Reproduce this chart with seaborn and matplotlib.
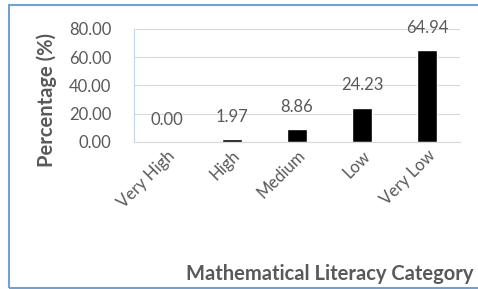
import matplotlib
matplotlib.use("Agg")
import matplotlib.pyplot as plt
import seaborn as sns
import pandas as pd
from matplotlib.patches import Rectangle

# data
categories = ["Very High", "High", "Medium", "Low", "Very Low"]
percentages = [0.00, 1.97, 8.86, 24.23, 64.94]
y_ticks = [0, 20, 40, 60, 80]

df = pd.DataFrame({"category": categories, "pct": percentages})

sns.set_style("white")
plt.rcParams["font.family"] = ["Lato", "DejaVu Sans"]
txt_gray = "#595959"

fig = plt.figure(figsize=(4.78, 2.89), dpi=100)
ax = fig.add_axes([0.280, 0.509, 0.682, 0.391])

sns.barplot(data=df, x="category", y="pct", color="black", width=0.31,
            saturation=1, ax=ax)

ax.set_ylim(0, 80)
ax.set_yticks(y_ticks)
ax.set_yticklabels([f"{v:.2f}" for v in y_ticks], color=txt_gray, fontsize=12)
ax.yaxis.grid(True, color="#d9d9d9", linewidth=0.8)
ax.set_axisbelow(True)
ax.tick_params(axis="y", length=0, pad=16)
ax.tick_params(axis="x", length=0, pad=4)
plt.setp(ax.get_xticklabels(), rotation=45, ha="right", rotation_mode="anchor",
         color=txt_gray, fontsize=12)
for side in ["top", "right"]:
    ax.spines[side].set_visible(False)
ax.spines["left"].set_color("#bdd7ee")
ax.spines["bottom"].set_color("#d9d9d9")

# value labels above bars
for i, v in enumerate(percentages):
    ax.annotate(f"{v:.2f}", (i, v), xytext=(0, 16), textcoords="offset points",
                ha="center", va="center", color=txt_gray, fontsize=12)

ax.set_xlabel("")
ax.set_ylabel("")
fig.text(47 / 478, 1 - 100 / 289, "Percentage (%)", rotation=90, ha="center",
         va="center", fontweight="bold", color=txt_gray, fontsize=14.5)
fig.text(473 / 478, 1 - 274 / 289, "Mathematical Literacy Category", ha="right",
         va="center", fontweight="bold", color=txt_gray, fontsize=14.5)

# chart frame
fig.patches.append(Rectangle((9 / 478, 1 - 288 / 289), 0.99, 283 / 289,
                             transform=fig.transFigure, fill=False,
                             edgecolor="#6fa0d8", linewidth=1.5))

fig.savefig("out.png", dpi=100)
